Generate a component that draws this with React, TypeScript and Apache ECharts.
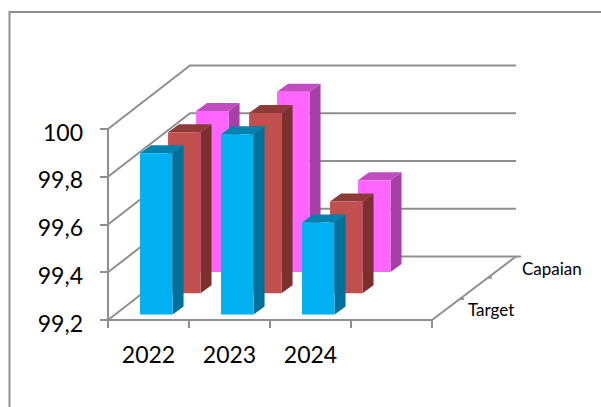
import React, { useEffect, useRef } from "react";
import * as echarts from "echarts";

const categories = ["2022", "2023", "2024", ""];
const target = [99.875, 99.955, 99.585];
const middle = [99.875, 99.955, 99.585];
const capaian = [99.875, 99.955, 99.585];
const yTicks = [99.2, 99.4, 99.6, 99.8, 100];
const depthNames = ["Target", "Capaian"];

const GRID = { left: 108, top: 129, width: 324, height: 191 };
const WALL = { dx: 82, dy: -63.5, right: 516 };
const LINE = "#8f8f8f";
const FONT = "Lato";

// oblique projection offsets of a bar inside its depth slot
const ROW = { dx: 28, dy: -21.2, startX: 7.8, startY: -5.5, depthX: 11, depthY: -8 };
const BAR_W = 32.5;

function barSeries(name: string, values: number[], row: number, colors: string[], z: number) {
  return {
    type: "custom",
    name,
    z,
    silent: true,
    clip: false,
    data: values.map((v, i) => [i, v]),
    renderItem: (_p: any, api: any) => {
      const top = api.coord([api.value(0), api.value(1)]);
      const base = api.coord([api.value(0), yTicks[0]]);
      const ox = ROW.startX + ROW.dx * row;
      const oy = ROW.startY + ROW.dy * row;
      const l = top[0] - BAR_W / 2 + ox;
      const r = l + BAR_W;
      const t = top[1] + oy;
      const b = base[1] + oy;
      const dx = ROW.depthX;
      const dy = ROW.depthY;
      return {
        type: "group",
        children: [
          { type: "polygon", shape: { points: [[r, t], [r + dx, t + dy], [r + dx, b + dy], [r, b]] }, style: { fill: colors[1] } },
          { type: "polygon", shape: { points: [[l, t], [r, t], [r + dx, t + dy], [l + dx, t + dy]] }, style: { fill: colors[2] } },
          { type: "rect", shape: { x: l, y: t, width: BAR_W, height: b - t }, style: { fill: colors[0] } },
        ],
      };
    },
  };
}

const wallSeries = {
  type: "custom",
  z: 1,
  silent: true,
  clip: false,
  data: yTicks.map((v) => [0, v]),
  renderItem: (p: any, api: any) => {
    const y = api.coord([0, api.value(1)])[1];
    const x = p.coordSys.x;
    return {
      type: "polyline",
      shape: { points: [[x, y], [x + WALL.dx, y + WALL.dy], [WALL.right, y + WALL.dy]] },
      style: { stroke: LINE, lineWidth: 2, fill: "none" },
    };
  },
};

const floorSeries = {
  type: "custom",
  z: 1,
  silent: true,
  clip: false,
  data: [[0, yTicks[0]]],
  renderItem: (p: any, api: any) => {
    const y = api.coord([0, yTicks[0]])[1];
    const x0 = p.coordSys.x + p.coordSys.width;
    const x1 = WALL.right;
    const y1 = y + WALL.dy;
    const tick = (f: number, len: number) => {
      const tx = x0 + (x1 - x0) * f;
      const ty = y + (y1 - y) * f;
      return {
        type: "line",
        shape: { x1: tx, y1: ty, x2: tx + len, y2: ty },
        style: { stroke: LINE, lineWidth: 2 },
      };
    };
    return {
      type: "group",
      children: [
        { type: "line", shape: { x1: x0, y1: y, x2: x1, y2: y1 }, style: { stroke: LINE, lineWidth: 2 } },
        tick(1 / 3, 4),
        tick(2 / 3, 4),
        tick(1, 5),
      ],
    };
  },
};

export default function App() {
  const ref = useRef<HTMLDivElement>(null);
  useEffect(() => {
    const chart = echarts.init(ref.current!, undefined, { renderer: "svg" });
    chart.setOption({
      animation: false,
      backgroundColor: "#ffffff",
      textStyle: { fontFamily: FONT },
      grid: { ...GRID, containLabel: false },
      graphic: [
        {
          type: "rect",
          z: 0,
          silent: true,
          shape: { x: 9.5, y: 12, width: 800, height: 600 },
          style: { fill: "none", stroke: LINE, lineWidth: 2 },
        },
        {
          type: "text",
          silent: true,
          x: 468,
          y: 309,
          style: { text: depthNames[0], font: `17px ${FONT}`, fill: "#000", textVerticalAlign: "middle" },
        },
        {
          type: "text",
          silent: true,
          x: 522,
          y: 268,
          style: { text: depthNames[1], font: `17px ${FONT}`, fill: "#000", textVerticalAlign: "middle" },
        },
      ],
      xAxis: {
        type: "category",
        data: categories,
        position: "bottom",
        axisLine: { show: true, lineStyle: { color: LINE, width: 2 } },
        axisTick: { show: true, length: 8, alignWithLabel: false, lineStyle: { color: LINE, width: 2 } },
        axisLabel: { interval: 0, margin: 22, fontSize: 23, color: "#000", fontFamily: FONT },
        splitLine: { show: false },
      },
      yAxis: {
        type: "value",
        min: 99.2,
        max: 100,
        interval: 0.2,
        axisLine: { show: true, lineStyle: { color: LINE, width: 2 } },
        axisTick: { show: true, length: 8, lineStyle: { color: LINE, width: 2 } },
        axisLabel: {
          margin: 25,
          color: "#000",
          fontFamily: FONT,
          fontSize: 23,
          rich: { t: { fontSize: 23, fontFamily: FONT, color: "#000", padding: [5, 0, 0, 0] } },
          formatter: (v: number) => `{t|${String(Math.round(v * 10) / 10).replace(".", ",")}}`,
        },
        splitLine: { show: false },
      },
      series: [
        wallSeries,
        floorSeries,
        barSeries("Capaian", capaian, 2, ["#FF66FF", "#A63FA6", "#C04CC0"], 2),
        barSeries("Middle", middle, 1, ["#C0504D", "#7C302E", "#8E3B38"], 3),
        barSeries("Target", target, 0, ["#00B0F0", "#00709A", "#0082B0"], 4),
      ],
    });
    return () => chart.dispose();
  }, []);
  return <div ref={ref} style={{ position: "absolute", left: 0, top: 0, width: 601, height: 407, overflow: "hidden" }} />;
}
